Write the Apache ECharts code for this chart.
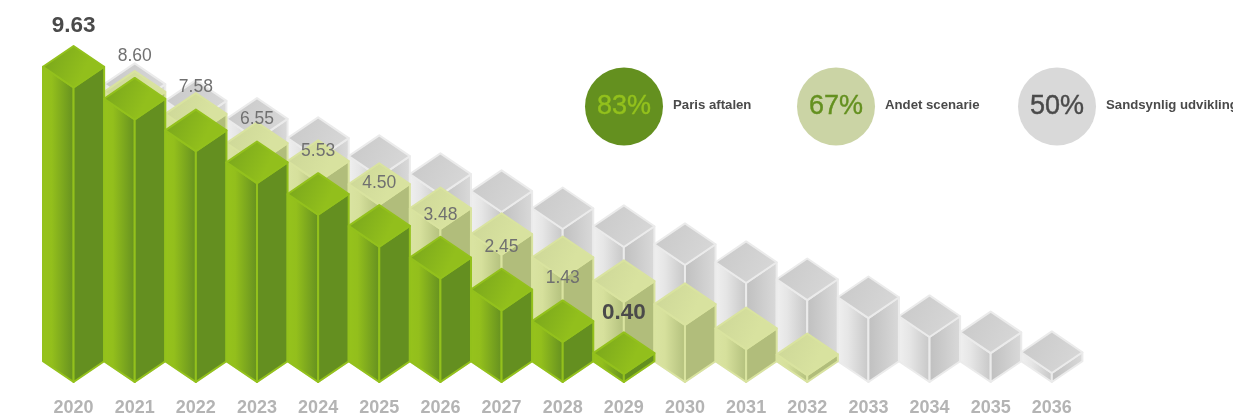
<!DOCTYPE html>
<html>
<head>
<meta charset="utf-8">
<style>
  html, body { margin: 0; padding: 0; background: #fff; overflow: hidden; }
  #chart { width: 1233px; height: 414px; }
</style>
<script src="https://cdn.jsdelivr.net/npm/echarts@6/dist/echarts.min.js"></script>
</head>
<body>
<div id="chart"></div>
<script>
// Emission budget by year under three scenarios
const years = ['2020','2021','2022','2023','2024','2025','2026','2027','2028','2029','2030','2031','2032','2033','2034','2035','2036'];
const parisValues = [9.63, 8.60, 7.58, 6.55, 5.53, 4.50, 3.48, 2.45, 1.43, 0.40, null, null, null, null, null, null, null];
const otherValues = [null, 8.82, 8.11, 7.17, 6.59, 5.85, 5.07, 4.24, 3.49, 2.72, 1.98, 1.20, 0.36, null, null, null, null];
const likelyValues = [null, 9.07, 8.53, 7.95, 7.33, 6.75, 6.17, 5.62, 5.07, 4.49, 3.91, 3.33, 2.78, 2.20, 1.59, 1.07, 0.43];
const boldLabels = ['9.63', '0.40'];
const legendNames = ['Paris aftalen', 'Andet scenarie', 'Sandsynlig udvikling'];
const legendShares = ['83%', '67%', '50%'];

const AXIS_MIN = 0.14;
const AXIS_MAX = 12;
const FONT = '"Liberation Sans", Arial, sans-serif';

const grad = (x2, y2, stops) => new echarts.graphic.LinearGradient(0, 0, x2, y2,
  stops.map(([offset, color]) => ({ offset, color })));

const palettes = {
  green: {
    edge: '#93c11c',
    top: grad(1, 0.7, [[0, '#76a31c'], [0.7, '#92bf1c'], [1, '#92bf1c']]),
    left: grad(1, 0, [[0, '#96c31c'], [0.3, '#93bf1c'], [1, '#648f20']]),
    right: '#648f20'
  },
  light: {
    edge: '#d9e39f',
    top: grad(1, 0.7, [[0, '#ccd697'], [0.7, '#d8e29f'], [1, '#d8e29f']]),
    left: grad(1, 0, [[0, '#dae4a2'], [0.35, '#d6e09c'], [1, '#b2bf7c']]),
    right: '#b1bd7b'
  },
  grey: {
    edge: '#ebebeb',
    top: grad(1, 0.7, [[0, '#c8c8c8'], [1, '#d8d8d8']]),
    left: grad(1, 0, [[0, '#f0f0f0'], [0.35, '#e6e6e6'], [1, '#c6c6c6']]),
    right: grad(1, 0, [[0, '#bfbfbf'], [1, '#dadada']])
  }
};

// One isometric column: two side faces and a diamond cap, projected from the axes
function columnRenderer(palette) {
  return function (params, api) {
    const value = api.value(1);
    if (value == null || isNaN(value)) return null;
    const band = api.size([1, 0])[0];
    const halfW = band * 0.5;
    const depth = band * 0.34;
    const [cx, top] = api.coord([api.value(0), value]);
    const [, base] = api.coord([api.value(0), AXIS_MIN]);
    const face = (points, fill) => ({
      type: 'polygon',
      shape: { points },
      style: { fill, stroke: palette.edge, lineWidth: 2, lineJoin: 'round' }
    });
    return {
      type: 'group',
      children: [
        face([[cx - halfW, top - depth], [cx, top], [cx, base], [cx - halfW, base - depth]], palette.left),
        face([[cx, top], [cx + halfW, top - depth], [cx + halfW, base - depth], [cx, base]], palette.right),
        face([[cx, top], [cx - halfW, top - depth], [cx, top - 2 * depth], [cx + halfW, top - depth]], palette.top)
      ]
    };
  };
}

// Value caption sitting above each column's cap
function captionRenderer(params, api) {
  const value = api.value(1);
  if (value == null || isNaN(value)) return null;
  const band = api.size([1, 0])[0];
  const depth = band * 0.34;
  const [cx, top] = api.coord([api.value(0), value]);
  const text = value.toFixed(2);
  const bold = boldLabels.includes(text);
  return {
    type: 'text',
    x: cx,
    y: top - 2 * depth - (bold ? 20 : 22),
    style: {
      text,
      fill: bold ? '#4a4a4a' : '#707070',
      font: (bold ? 'bold 22.5px ' : '17.5px ') + FONT,
      textAlign: 'center',
      textVerticalAlign: 'middle',
      align: 'center',
      verticalAlign: 'middle'
    }
  };
}

const seriesData = values => values.map((v, i) => [i, v]);

function columnSeries(name, values, palette, z) {
  return {
    type: 'custom',
    name,
    z,
    silent: true,
    coordinateSystem: 'cartesian2d',
    renderItem: columnRenderer(palette),
    encode: { x: 0, y: 1 },
    data: seriesData(values),
    clip: false
  };
}

// Scenario key: a filled disc with the share inside and the name beside it
const legendDiscs = [
  { fill: '#64901f', ink: '#93c11c', cx: 624 },
  { fill: '#cbd4a5', ink: '#64901f', cx: 836 },
  { fill: '#d9d9d9', ink: '#4a4a4a', cx: 1057 }
];
const legendY = 106.5;
const legendGraphics = [];
legendDiscs.forEach((disc, i) => {
  legendGraphics.push({
    type: 'circle',
    shape: { cx: disc.cx, cy: legendY, r: 39 },
    style: { fill: disc.fill }
  });
  legendGraphics.push({
    type: 'text',
    x: disc.cx,
    y: legendY + 0.5,
    style: {
      text: legendShares[i],
      fill: disc.ink,
      stroke: disc.ink,
      lineWidth: 0.4,
      font: '27px ' + FONT,
      textAlign: 'center',
      textVerticalAlign: 'middle',
      align: 'center',
      verticalAlign: 'middle'
    }
  });
  legendGraphics.push({
    type: 'text',
    x: disc.cx + 49,
    y: legendY - 1,
    style: {
      text: legendNames[i],
      fill: '#4a4a4a',
      font: 'bold 13.2px ' + FONT,
      textAlign: 'left',
      textVerticalAlign: 'middle',
      align: 'left',
      verticalAlign: 'middle'
    }
  });
});

const chart = echarts.init(document.getElementById('chart'), null, { renderer: 'canvas' });
chart.setOption({
  animation: false,
  backgroundColor: '#ffffff',
  grid: { left: 43, width: 1039.4, top: 14, height: 368, outerBoundsMode: 'none' },
  xAxis: {
    type: 'category',
    data: years,
    axisLine: { show: false },
    axisTick: { show: false },
    axisLabel: {
      interval: 0,
      color: '#b4b4b4',
      fontFamily: FONT,
      fontWeight: 'bold',
      fontSize: 18,
      margin: 17
    }
  },
  yAxis: { type: 'value', min: AXIS_MIN, max: AXIS_MAX, show: false },
  graphic: { elements: legendGraphics },
  series: [
    columnSeries('Sandsynlig udvikling', likelyValues, palettes.grey, 2),
    columnSeries('Andet scenarie', otherValues, palettes.light, 3),
    columnSeries('Paris aftalen', parisValues, palettes.green, 4),
    {
      type: 'custom',
      name: 'Værdier',
      z: 5,
      silent: true,
      coordinateSystem: 'cartesian2d',
      renderItem: captionRenderer,
      encode: { x: 0, y: 1 },
      data: seriesData(parisValues),
      clip: false
    }
  ]
});
</script>
</body>
</html>
